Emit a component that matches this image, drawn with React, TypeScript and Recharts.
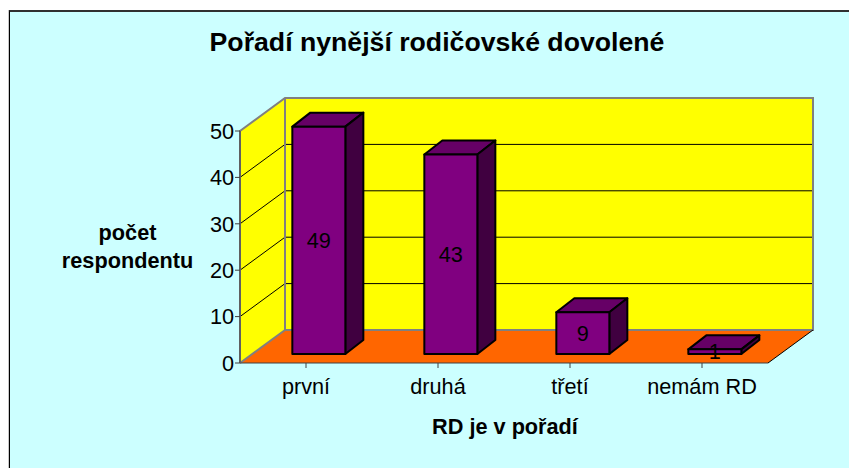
import React from 'react';
import { BarChart, Bar, XAxis, YAxis, LabelList, usePlotArea } from 'recharts';

const categories = ['první', 'druhá', 'třetí', 'nemám RD'];
const counts = [49, 43, 9, 1];
const yTicks = [0, 10, 20, 30, 40, 50];

const chartData = categories.map((name, i) => ({ name, count: counts[i] }));

const FONT = '"Liberation Sans", Arial, sans-serif';
const DEPTH_X = 45;
const DEPTH_Y = 33;
// bars sit part way into the floor
const BAR_OFF_X = 13;
const BAR_OFF_Y = 9;
const BAR_DX = 18;
const BAR_DY = 14;

function Walls() {
  const plot = usePlotArea();
  if (!plot) return null;
  const left = plot.x;
  const right = plot.x + plot.width;
  const top = plot.y;
  const bottom = plot.y + plot.height;
  const yOf = (v: number) => bottom - (v / 50) * plot.height;
  return (
    <g>
      <polygon
        points={`${left + DEPTH_X},${top - DEPTH_Y} ${right + DEPTH_X},${top - DEPTH_Y} ${right + DEPTH_X},${bottom - DEPTH_Y} ${left + DEPTH_X},${bottom - DEPTH_Y}`}
        fill="#FFFF00"
      />
      <polygon
        points={`${left},${top} ${left + DEPTH_X},${top - DEPTH_Y} ${left + DEPTH_X},${bottom - DEPTH_Y} ${left},${bottom}`}
        fill="#FFFF00"
      />
      <polygon
        points={`${left},${bottom} ${left + DEPTH_X},${bottom - DEPTH_Y} ${right + DEPTH_X},${bottom - DEPTH_Y} ${right},${bottom}`}
        fill="#FF6600"
      />
      {yTicks.slice(1, -1).map((v) => (
        <polyline
          key={v}
          points={`${left},${yOf(v)} ${left + DEPTH_X},${yOf(v) - DEPTH_Y} ${right + DEPTH_X},${yOf(v) - DEPTH_Y}`}
          fill="none"
          stroke="#000"
          strokeWidth={1}
        />
      ))}
      <polyline
        points={`${left},${bottom} ${left},${top} ${left + DEPTH_X},${top - DEPTH_Y} ${right + DEPTH_X},${top - DEPTH_Y} ${right + DEPTH_X},${bottom - DEPTH_Y} ${left + DEPTH_X},${bottom - DEPTH_Y}`}
        fill="none"
        stroke="#808080"
        strokeWidth={2}
      />
      <line x1={left + DEPTH_X} y1={top - DEPTH_Y} x2={left + DEPTH_X} y2={bottom - DEPTH_Y} stroke="#808080" strokeWidth={2} />
      <line x1={right} y1={bottom} x2={right + DEPTH_X} y2={bottom - DEPTH_Y} stroke="#000" strokeWidth={1} />
      <line x1={left} y1={bottom} x2={left + DEPTH_X} y2={bottom - DEPTH_Y} stroke="#808080" strokeWidth={2} />
    </g>
  );
}

function Box3D(props: any) {
  const { x, y, width, height } = props;
  const fx = x + BAR_OFF_X;
  const fy = y - BAR_OFF_Y;
  const fr = fx + width;
  const fb = fy + height;
  return (
    <g stroke="#000" strokeWidth={2} strokeLinejoin="round">
      <polygon
        points={`${fx},${fy} ${fx + BAR_DX},${fy - BAR_DY} ${fr + BAR_DX},${fy - BAR_DY} ${fr},${fy}`}
        fill="#660066"
      />
      <polygon
        points={`${fr},${fy} ${fr + BAR_DX},${fy - BAR_DY} ${fr + BAR_DX},${fb - BAR_DY} ${fr},${fb}`}
        fill="#400040"
      />
      <rect x={fx} y={fy} width={width} height={height} fill="#800080" />
    </g>
  );
}

function FrontLabel(props: any) {
  const { x, y, width, height, value } = props;
  return (
    <text
      x={x + width / 2 + BAR_OFF_X}
      y={y + height / 2 - BAR_OFF_Y}
      textAnchor="middle"
      dominantBaseline="central"
      fontFamily={FONT}
      fontSize={21.7}
      fill="#000"
    >
      {value}
    </text>
  );
}

const tickStyle = { fontFamily: FONT, fontSize: 21.7, fill: '#000' };

export default function App() {
  return (
    <div style={{ position: 'absolute', left: 0, top: 0, width: 849, height: 468, background: '#fff', overflow: 'hidden' }}>
      <div
        style={{
          position: 'absolute',
          left: 9,
          top: 10,
          width: 860,
          height: 480,
          background: '#CCFFFF',
          borderLeft: '1px solid #000',
          borderTop: '2px solid #303030',
          boxShadow: '-1px 0 0 #c8c8c8',
          boxSizing: 'border-box',
        }}
      />
      <div style={{ position: 'absolute', left: 0, top: 0 }}>
        <BarChart
          width={849}
          height={468}
          data={chartData}
          margin={{ top: 131, right: 81, bottom: 0, left: 200 }}
          barCategoryGap="29.8%"
          style={{ background: 'transparent' }}
        >
          <Walls />
          <XAxis
            dataKey="name"
            tickSize={5}
            tickLine={{ stroke: '#404040' }}
            axisLine={{ stroke: '#404040' }}
            tick={tickStyle}
            tickMargin={11}
            interval={0}
            height={105}
          />
          <YAxis
            domain={[0, 50]}
            ticks={yTicks}
            width={40}
            tickSize={5}
            tick={tickStyle}
            tickMargin={1}
            interval={0}
            axisLine={{ stroke: '#606060', strokeWidth: 2 }}
            tickLine={{ stroke: '#404040' }}
          />
          <Bar dataKey="count" isAnimationActive={false} shape={<Box3D />}>
            <LabelList dataKey="count" content={<FrontLabel />} />
          </Bar>
          <text x={437} y={51} textAnchor="middle" fontFamily={FONT} fontWeight="bold" fontSize={26.67} fill="#000">
            Pořadí nynější rodičovské dovolené
          </text>
          <text textAnchor="middle" fontFamily={FONT} fontWeight="bold" fontSize={21.7} fill="#000">
            <tspan x={127.5} y={240}>počet</tspan>
            <tspan x={127.5} y={268}>respondentu</tspan>
          </text>
          <text x={505} y={434} textAnchor="middle" fontFamily={FONT} fontWeight="bold" fontSize={21.7} fill="#000">
            RD je v pořadí
          </text>
        </BarChart>
      </div>
    </div>
  );
}
